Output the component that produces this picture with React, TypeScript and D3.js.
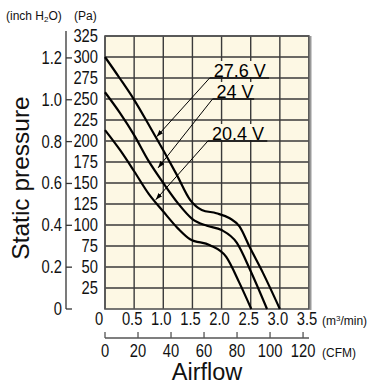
import React from "react";
import * as d3 from "d3";

// Axis ticks
const flowTicks = [0, 0.5, 1.0, 1.5, 2.0, 2.5, 3.0, 3.5];
const cfmTicks = [0, 20, 40, 60, 80, 100, 120];
const paTicks = [25, 50, 75, 100, 125, 150, 175, 200, 225, 250, 275, 300, 325];
const inchTicks = [0, 0.2, 0.4, 0.6, 0.8, 1.0, 1.2];

// Curves: [airflow m3/min, static pressure Pa]
const curve276: [number, number][] = [
  [0, 300], [0.25, 275], [0.5, 249], [0.77, 217], [1.0, 189], [1.23, 160], [1.46, 130],
  [1.66, 118], [1.91, 114], [2.14, 108], [2.31, 98], [2.48, 74], [2.71, 43], [3.0, 0],
];
const curve24: [number, number][] = [
  [0, 258], [0.25, 234], [0.5, 207], [0.75, 176], [1.0, 150], [1.25, 126], [1.5, 107],
  [1.75, 99], [2.0, 94], [2.26, 79], [2.5, 45], [2.78, 0],
];
const curve204: [number, number][] = [
  [0, 213], [0.26, 189], [0.5, 164], [0.75, 137], [1.0, 116], [1.25, 96], [1.46, 83],
  [1.8, 76], [2.08, 62], [2.3, 32], [2.51, 0],
];

const seriesLabels = ["27.6 V", "24 V", "20.4 V"];
const labelGridPa = [275, 250, 200];
const labelLeftQ = [1.83, 1.88, 1.80];
const arrowTips: [number, number][] = [[0.885, 205], [0.91, 168], [0.87, 130]];

const PA_PER_INCH = 249.089;
const CFM_PER_M3 = 35.3147;

const sans = "'Liberation Sans', Arial, sans-serif";

function NText(props: { x: number; y: number; anchor?: string; children: React.ReactNode }) {
  return (
    <text
      transform={`translate(${props.x},${props.y}) scale(0.82,1)`}
      textAnchor={props.anchor || "start"}
      fontFamily={sans}
      fontSize={18}
      fill="#111"
    >
      {props.children}
    </text>
  );
}

export default function App() {
  const x = d3.scaleLinear().domain([0, 3.5]).range([105, 309]);
  const y = d3.scaleLinear().domain([0, 325]).range([309, 36]);
  const line = d3
    .line<[number, number]>()
    .x((d) => x(d[0]))
    .y((d) => y(d[1]))
    .curve(d3.curveMonotoneX);

  const gridColor = "#3a3a3a";
  const x0 = x(0), x1 = x(3.5), y0 = y(0), y1 = y(325);
  const inchX = 66;

  return (
    <svg width={374} height={385} style={{ position: "absolute", left: 0, top: 0 }}>
      <defs>
        <marker id="arr" viewBox="0 0 10 10" refX="10" refY="5" markerWidth="7" markerHeight="7" orient="auto">
          <path d="M0,1.5 L10,5 L0,8.5 Z" fill="#000" />
        </marker>
      </defs>
      {/* header */}
      <text x={6} y={20} fontFamily={sans} fontSize={12} fill="#111">
        (inch H<tspan fontSize={8} dy={2}>2</tspan><tspan dy={-2}>O)</tspan>
      </text>
      <text x={74} y={20} fontFamily={sans} fontSize={12} fill="#111">(Pa)</text>

      {/* plot background */}
      <rect x={x0} y={y1} width={x1 - x0} height={y0 - y1} fill="#fdf8e4" />
      {/* grid */}
      {paTicks.map((p) => (
        <line key={"h" + p} x1={x0} x2={x1} y1={y(p)} y2={y(p)} stroke={gridColor} strokeWidth={1.4} />
      ))}
      {flowTicks.map((q) => (
        <line key={"v" + q} x1={x(q)} x2={x(q)} y1={y1} y2={y0} stroke={gridColor} strokeWidth={1.4} />
      ))}
      <rect x={x0} y={y1} width={x1 - x0} height={y0 - y1} fill="none" stroke="#555" strokeWidth={1.6} />
      <line x1={x1 + 1.5} x2={x1 + 1.5} y1={y1} y2={y0 + 1} stroke="#999" strokeWidth={2} />

      {/* curves */}
      {[curve276, curve24, curve204].map((c, i) => (
        <path key={"c" + i} d={line(c) || ""} fill="none" stroke="#000" strokeWidth={2.2} />
      ))}

      {/* annotations */}
      {seriesLabels.map((lab, i) => {
        const gy = y(labelGridPa[i]);
        const lx = x(labelLeftQ[i]);
        const w = lab.length * 8.9;
        return (
          <g key={"a" + i}>
            <rect x={lx} y={gy - 17} width={w + 4} height={16} fill="#fdf8e4" />
            <line x1={lx - 2} x2={lx + w + 4} y1={gy} y2={gy} stroke="#111" strokeWidth={1.4} />
            <text x={lx + 2} y={gy - 1.5} fontFamily={sans} fontSize={18} fill="#000">{lab}</text>
            <line
              x1={lx - 2}
              y1={gy}
              x2={x(arrowTips[i][0])}
              y2={y(arrowTips[i][1])}
              stroke="#000"
              strokeWidth={1}
              markerEnd="url(#arr)"
            />
          </g>
        );
      })}

      {/* Pa labels */}
      {paTicks.map((p) => (
        <NText key={"pl" + p} x={98} y={y(p) + 6} anchor="end">{p}</NText>
      ))}

      {/* inch axis */}
      <line x1={inchX} x2={inchX} y1={y1 - 5} y2={y0} stroke="#333" strokeWidth={1.3} />
      {inchTicks.map((v) => (
        <g key={"in" + v}>
          <line x1={inchX} x2={inchX + 6} y1={y(v * PA_PER_INCH)} y2={y(v * PA_PER_INCH)} stroke="#333" strokeWidth={1.3} />
          <NText x={62} y={y(v * PA_PER_INCH) + 6} anchor="end">{v === 0 ? "0" : v.toFixed(1)}</NText>
        </g>
      ))}

      {/* flow labels */}
      {flowTicks.map((q) => (
        <NText key={"fl" + q} x={x(q) - (q === 0 ? 6 : 2)} y={325} anchor="middle">
          {q === 0 ? "0" : q.toFixed(1)}
        </NText>
      ))}
      <text x={322} y={325} fontFamily={sans} fontSize={12} fill="#111">
        (m<tspan fontSize={8} dy={-4}>3</tspan><tspan dy={4}>/min)</tspan>
      </text>

      {/* CFM axis */}
      <line x1={x0} x2={x1} y1={338} y2={338} stroke="#555" strokeWidth={1.3} />
      {cfmTicks.map((c) => (
        <g key={"cf" + c}>
          <line x1={x(c / CFM_PER_M3)} x2={x(c / CFM_PER_M3)} y1={332} y2={338} stroke="#555" strokeWidth={1.3} />
          <NText x={x(c / CFM_PER_M3)} y={357} anchor="middle">{c}</NText>
        </g>
      ))}
      <text x={322} y={357} fontFamily={sans} fontSize={12} fill="#111">(CFM)</text>

      {/* axis titles */}
      <text x={207} y={380} textAnchor="middle" fontFamily={sans} fontSize={23.5} fill="#111">Airflow</text>
      <text transform="translate(29,178) rotate(-90)" textAnchor="middle" fontFamily={sans} fontSize={24.5} fill="#111">
        Static pressure
      </text>
    </svg>
  );
}
